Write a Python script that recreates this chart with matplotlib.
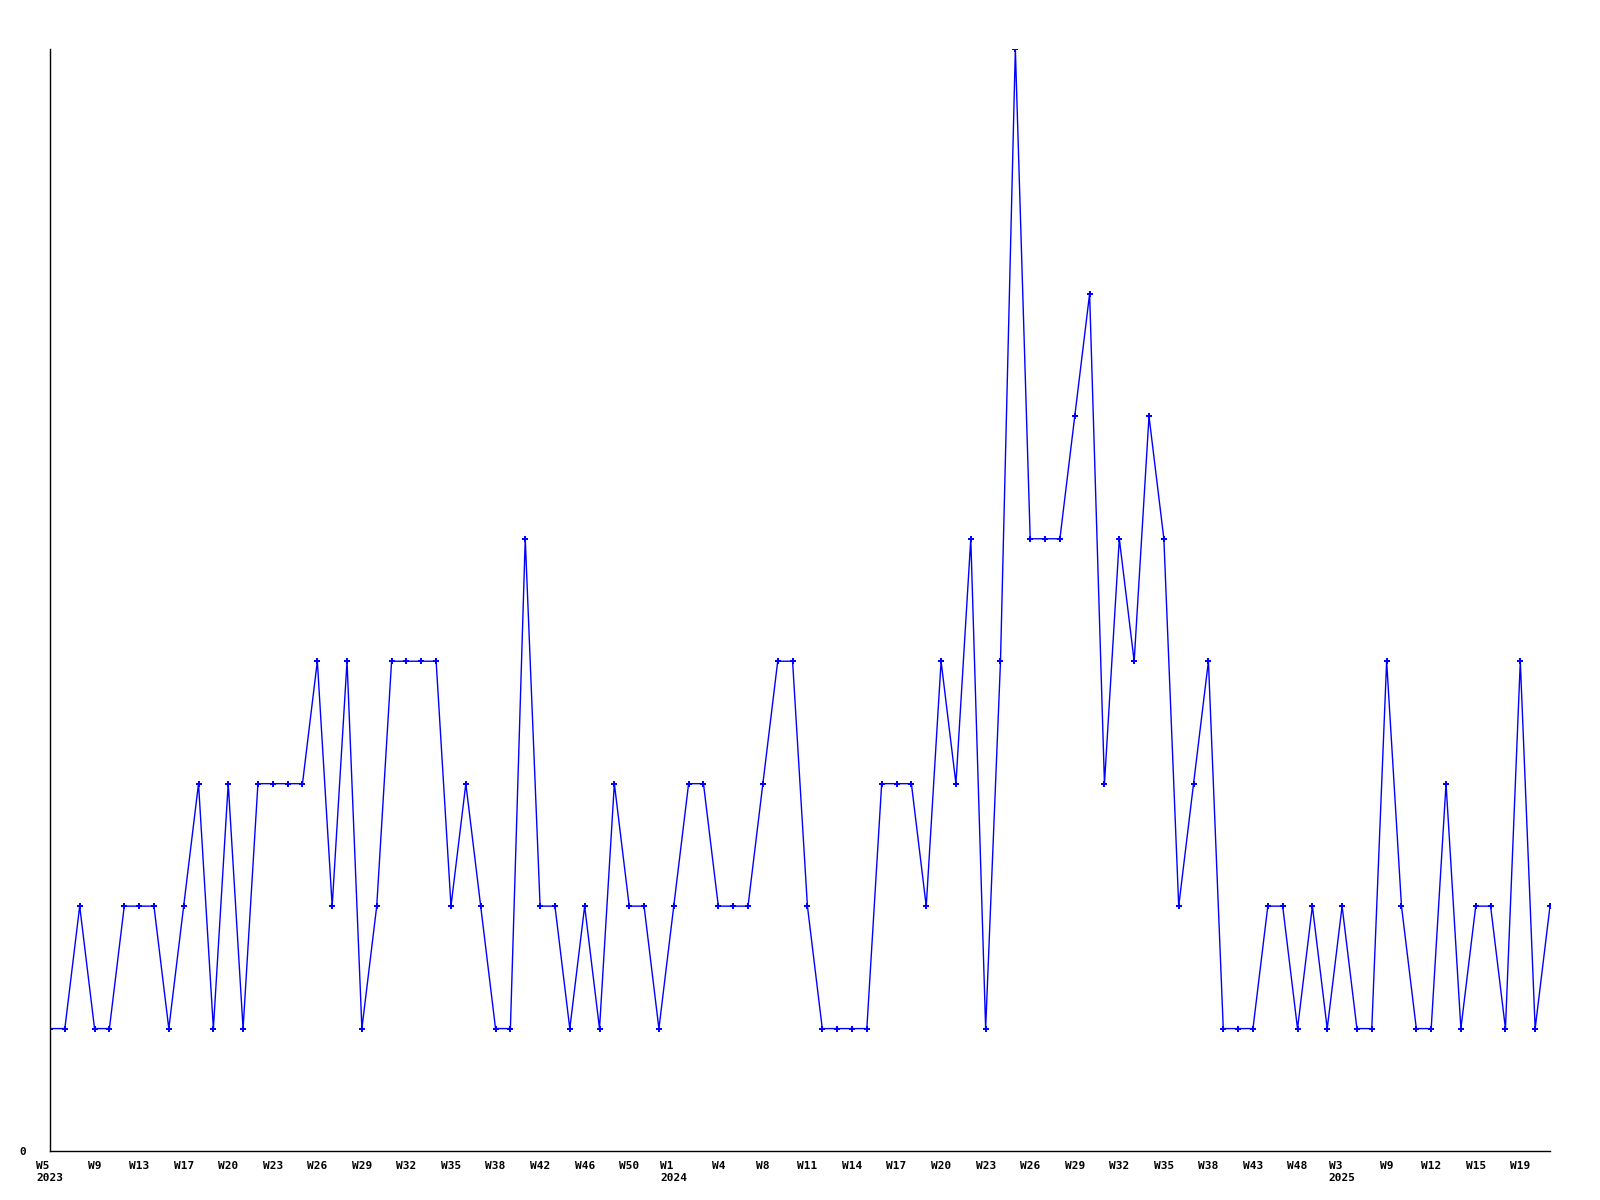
import matplotlib
matplotlib.use('Agg')
import matplotlib.pyplot as plt

# Weekly counts, one value per plotted point (102 points)
values = [
    1, 1, 2, 1, 1, 2, 2, 2, 1, 2,
    3, 1, 3, 1, 3, 3, 3, 3, 4, 2,
    4, 1, 2, 4, 4, 4, 4, 2, 3, 2,
    1, 1, 5, 2, 2, 1, 2, 1, 3, 2,
    2, 1, 2, 3, 3, 2, 2, 2, 3, 4,
    4, 2, 1, 1, 1, 1, 3, 3, 3, 2,
    4, 3, 5, 1, 4, 9, 5, 5, 5, 6,
    7, 3, 5, 4, 6, 5, 2, 3, 4, 1,
    1, 1, 2, 2, 1, 2, 1, 2, 1, 1,
    4, 2, 1, 1, 3, 1, 2, 2, 1, 4,
    1, 2,
]

# Tick labels shown every third point
tick_labels = [
    'W5\n2023', 'W9', 'W13', 'W17', 'W20', 'W23', 'W26', 'W29', 'W32', 'W35',
    'W38', 'W42', 'W46', 'W50', 'W1\n2024', 'W4', 'W8', 'W11', 'W14', 'W17',
    'W20', 'W23', 'W26', 'W29', 'W32', 'W35', 'W38', 'W43', 'W48', 'W3\n2025',
    'W9', 'W12', 'W15', 'W19',
]
tick_step = 3

fig = plt.figure(figsize=(16, 12), dpi=100)
ax = fig.add_axes([0.03125, 0.0408, 0.9375, 0.9184])

x = list(range(len(values)))
ax.plot(x, values, color='#0000ff', linewidth=1.0,
        marker='P', markersize=4, markeredgewidth=0)

ax.set_xlim(0, len(values) - 1)
ax.set_ylim(0, max(values))

ax.set_xticks(x[::tick_step])
ax.set_xticklabels(tick_labels, fontfamily='DejaVu Sans Mono',
                   fontweight='bold', fontsize=8, linespacing=1.3)
for lbl in ax.get_xticklabels():
    lbl.set_multialignment('left')
ax.tick_params(axis='x', length=0, pad=7)

ax.set_yticks([0])
ax.set_yticklabels(['0'], fontfamily='DejaVu Sans Mono',
                   fontweight='bold', fontsize=8)
ax.tick_params(axis='y', length=0, pad=17)

for side in ['top', 'right']:
    ax.spines[side].set_visible(False)
for side in ['left', 'bottom']:
    ax.spines[side].set_linewidth(1.0)

fig.savefig('out.png', dpi=100)
